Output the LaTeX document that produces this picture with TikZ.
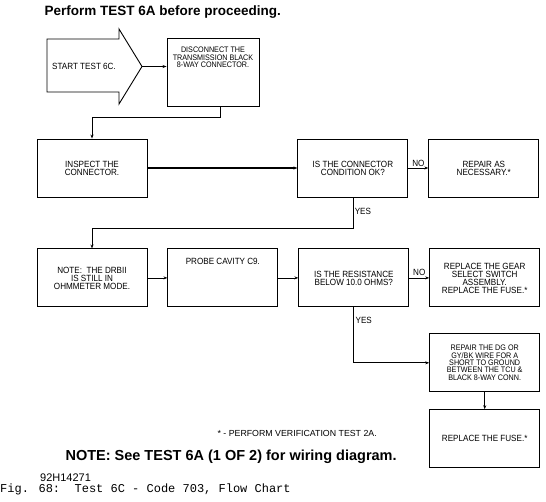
\documentclass[tikz,border=0pt]{standalone}
\usepackage{fontspec}
\setmainfont{Liberation Sans}
\newfontfamily\plotfont[FakeStretch=0.9]{Liberation Sans}
\newfontfamily\capfont{Liberation Mono}
\usepackage{tikz}
\usetikzlibrary{arrows.meta,positioning}

\newcommand{\chartfont}{\plotfont\fontsize{9}{8}\selectfont}
\newcommand{\smallchartfont}{\plotfont\fontsize{8}{7.3}\selectfont}

\begin{document}
\begin{tikzpicture}[
        x=1pt, y=-1pt,
        node distance=20pt,
        block/.style={
            draw,
            line width=0.9pt,
            align=center,
            font=\chartfont,
            inner sep=2pt,
            minimum height=58pt,
            minimum width=110pt
        },
        arrow/.style={
            -{Stealth[length=4pt,width=3pt]},
            line width=0.7pt
        },
        tag/.style={
            font=\chartfont,
            inner sep=1.5pt
        }
    ]

        \useasboundingbox (0,0) rectangle (546,501);

        \node[anchor=west, font=\bfseries\fontsize{13.5}{15}\selectfont] (title) at (41,12) {Perform TEST 6A before proceeding.};

        % start arrow
        \draw[line width=0.9pt] (47,39) -- (119,39) -- (119,29) -- (142,66.5) -- (119,104) -- (119,92) -- (47,92) -- cycle;
        \coordinate (tip) at (142,66.5);
        \node[tag] (start) at (84,66) {START TEST 6C.};

        \node[block, font=\smallchartfont, minimum width=92pt, minimum height=68pt] (disconnect) at (213,72) {DISCONNECT THE\\TRANSMISSION BLACK\\8-WAY CONNECTOR.\\[22pt]\mbox{}};

        \node[block] (inspect) at (92,168) {INSPECT THE\\CONNECTOR.};
        \node[block, right=150pt of inspect] (condition) {IS THE CONNECTOR\\CONDITION OK?};
        \node[block, right=of condition] (repair) {REPAIR AS\\NECESSARY.*};

        \node[block, below=51pt of inspect] (note) {NOTE:\ \ THE DRBII\\IS STILL IN\\OHMMETER MODE.};
        \node[block, right=of note] (probe) {PROBE CAVITY C9.\\[25pt]\mbox{}};
        \node[block, right=of probe] (resistance) {IS THE RESISTANCE\\BELOW 10.0 OHMS?};
        \node[block, right=of resistance] (gear) {REPLACE THE GEAR\\SELECT SWITCH\\ASSEMBLY.\\REPLACE THE FUSE.*};
        \node[block, font=\smallchartfont, below=26pt of gear] (wire) {REPAIR THE DG OR\\GY/BK WIRE FOR A\\SHORT TO GROUND\\BETWEEN THE TCU \&\\BLACK 8-WAY CONN.};
        \node[block, below=17pt of wire] (fuse) {REPLACE THE FUSE.*};

        \draw[arrow] (tip) -- (tip -| disconnect.west);
        \draw[arrow] ([xshift=7pt]disconnect.south) -- ++(0,11) -| (inspect.north);
        \draw[arrow, line width=1.2pt] (inspect) -- (condition);
        \draw[arrow] (condition) -- node[tag, above] {NO} (repair);
        \draw[arrow] (condition.south) -- node[tag, right, pos=0.45] {YES} ++(0,31) -| (note.north);
        \draw[arrow] (note) -- (probe);
        \draw[arrow] (probe) -- (resistance);
        \draw[arrow] (resistance) -- node[tag, above] {NO} (gear);
        \draw[arrow] (resistance.south) |- node[tag, right, pos=0.12] {YES} (wire.west);
        \draw[arrow] (wire) -- (fuse);

        \node[anchor=west, font=\fontsize{8.8}{10}\selectfont] (verify) at (214,433) {* - PERFORM VERIFICATION TEST 2A.};
        \node[anchor=west, font=\bfseries\fontsize{14.5}{16}\selectfont] (wiring) at (62,457) {NOTE: See TEST 6A (1 OF 2) for wiring diagram.};
        \node[anchor=base west, inner sep=0pt, font=\fontsize{11}{12}\selectfont] (figid) at (40,481) {92H14271};
        \node[anchor=base west, inner sep=0pt, font=\capfont\fontsize{12}{13}\selectfont] (caption) at (0,492) {Fig. 68:\ \ Test 6C - Code 703, Flow Chart};

    \end{tikzpicture}
\end{document}
